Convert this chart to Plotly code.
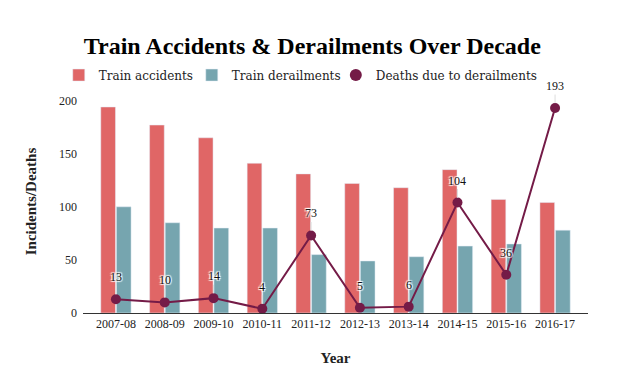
import plotly.graph_objects as go

years = ["2007-08", "2008-09", "2009-10", "2010-11", "2011-12",
         "2012-13", "2013-14", "2014-15", "2015-16", "2016-17"]
train_accidents = [194, 177, 165, 141, 131, 122, 118, 135, 107, 104]
train_derailments = [100, 85, 80, 80, 55, 49, 53, 63, 65, 78]
deaths_derailments = [13, 10, 14, 4, 73, 5, 6, 104, 36, 193]

C_ACC = "#e06666"
C_DER = "#76a5af"
C_DEATH = "#741b47"
SERIF = "Liberation Serif"
LEG_FONT = "DejaVu Serif"

fig = go.Figure()
fig.add_trace(go.Bar(x=years, y=train_accidents, name="Train accidents",
                     marker_color=C_ACC, legend="legend"))
fig.add_trace(go.Bar(x=years, y=train_derailments, name="Train derailments",
                     marker_color=C_DER, legend="legend2"))
fig.add_trace(go.Scatter(x=years, y=deaths_derailments, mode="lines+markers",
                         name="Deaths due to derailments", showlegend=False,
                         line=dict(color=C_DEATH, width=2),
                         marker=dict(color=C_DEATH, size=10)))
# legend-only entry (circle symbol)
fig.add_trace(go.Scatter(x=[years[0]], y=[None], mode="markers",
                         name="Deaths due to derailments", legend="legend3",
                         marker=dict(color=C_DEATH, size=12)))

for x, v in zip(years, deaths_derailments):
    fig.add_annotation(x=x, y=v, text=str(v), showarrow=True, arrowhead=0,
                       arrowcolor="#dddddd", arrowwidth=1, ax=0, ay=-22,
                       standoff=5,
                       font=dict(family=SERIF, size=12, color="#111",
                                 shadow="auto"))

leg_common = dict(orientation="h", xanchor="left", y=1.067, yanchor="middle",
                  font=dict(family=LEG_FONT, size=12, color="#222"),
                  itemwidth=30, bgcolor="rgba(0,0,0,0)")

fig.update_layout(
    width=634, height=371,
    margin=dict(l=75, r=54, t=82, b=66, autoexpand=False),
    paper_bgcolor="white", plot_bgcolor="white",
    barmode="group", bargap=0.36, bargroupgap=0.06,
    title=dict(text="<b>Train Accidents &amp; Derailments Over Decade</b>",
               x=0.48, xanchor="center", y=0.898, yanchor="middle",
               font=dict(family=SERIF, size=24, color="#000")),
    legend=dict(x=-0.048, **leg_common),
    legend2=dict(x=0.2154, **leg_common),
    legend3=dict(x=0.5006, **leg_common),
    font=dict(family=SERIF, size=12, color="#222"),
    xaxis=dict(type="category", range=[-0.675, 9.675], showgrid=False,
               showline=True, linecolor="#333", linewidth=1, ticks="",
               tickfont=dict(family=SERIF, size=12, color="#222"),
               title=dict(text="<b>Year</b>", standoff=22,
                          font=dict(family=SERIF, size=15, color="#222"))),
    yaxis=dict(range=[0, 210], showgrid=False, zeroline=False, showline=False,
               tickvals=[0, 50, 100, 150, 200], ticks="",
               ticklabelstandoff=5,
               tickfont=dict(family=SERIF, size=12, color="#222"),
               title=dict(text="<b>Incidents/Deaths</b>", standoff=18,
                          font=dict(family=SERIF, size=15, color="#222"))),
)

fig.write_html("out.html")
